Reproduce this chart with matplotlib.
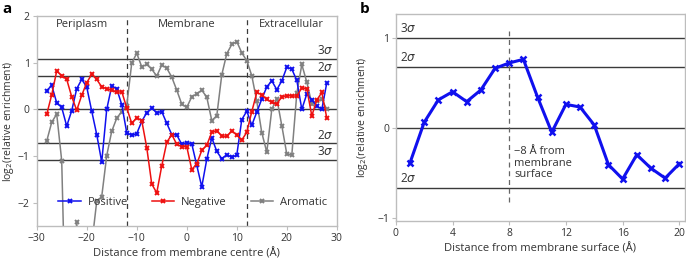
import numpy as np
import matplotlib
matplotlib.use('Agg')
import matplotlib.pyplot as plt

plt.rcParams['font.family'] = ['Open Sans', 'DejaVu Sans']
plt.rcParams['font.size'] = 8
plt.rcParams['mathtext.fontset'] = 'dejavusans'

# panel a data: enrichment vs distance from membrane centre
dist_a = list(range(-28, 29))
positive = [0.40, 0.51, 0.14, 0.04, -0.36, -0.03, 0.44, 0.64, 0.48, -0.04,
            -0.54, -1.13, 0.00, 0.50, 0.44, 0.10, -0.50, -0.56, -0.52, -0.26,
            -0.07, 0.02, -0.07, -0.05, -0.30, -0.54, -0.55, -0.75, -0.72, -0.74,
            -1.20, -1.66, -1.07, -0.61, -0.90, -1.06, -0.97, -1.03, -0.98, -0.22,
            -0.04, -0.34, -0.06, 0.22, 0.48, 0.61, 0.42, 0.61, 0.90, 0.86,
            0.62, 0.00, 0.33, 0.20, 0.07, 0.00, 0.57]
negative = [-0.11, 0.31, 0.82, 0.72, 0.64, 0.27, -0.02, 0.30, 0.57, 0.75,
            0.64, 0.48, 0.44, 0.41, 0.36, 0.38, 0.03, -0.30, -0.18, -0.24,
            -0.82, -1.60, -1.79, -1.21, -0.71, -0.54, -0.75, -0.80, -0.80, -1.29,
            -1.17, -0.88, -0.77, -0.49, -0.46, -0.57, -0.58, -0.46, -0.55, -0.66,
            -0.49, -0.05, 0.36, 0.31, 0.21, 0.15, 0.11, 0.27, 0.29, 0.29,
            0.28, 0.46, 0.44, -0.14, 0.20, 0.36, -0.19]
aromatic = [-0.68, -0.28, -0.10, -1.10, -5.5, -4.0, -2.42, -4.0, -4.0, -2.9,
            -1.97, -1.87, -0.99, -0.47, -0.19, -0.05, 0.08, 0.99, 1.20, 0.91,
            0.96, 0.86, 0.71, 0.95, 0.88, 0.69, 0.41, 0.11, 0.04, 0.27,
            0.33, 0.41, 0.26, -0.24, -0.14, 0.74, 1.19, 1.39, 1.45, 1.21,
            1.04, 0.72, 0.17, -0.50, -0.92, 0.00, 0.23, -0.35, -0.96, -0.98,
            0.34, 0.96, 0.58, 0.12, 0.18, 0.21, 0.00]

sigma_a = {'3': 1.075, '2': 0.715, '-2': -0.73, '-3': -1.085}
regions = ['Periplasm', 'Membrane', 'Extracellular']
region_x = [-21, 0, 21]
boundaries = [-12, 12]

# panel b data: positive residues vs distance from membrane surface
dist_b = list(range(1, 21))
positive_b = [-0.39, 0.06, 0.31, 0.40, 0.29, 0.42, 0.66, 0.72, 0.76, 0.34,
              -0.05, 0.26, 0.23, 0.03, -0.41, -0.57, -0.30, -0.45, -0.56, -0.40]
sigma_b = {'3': 1.0, '2': 0.68, '-2': -0.67}

line_col = '#3a3a3a'
spine_col = '#bdbdbd'
text_col = '#333333'

fig = plt.figure(figsize=(6.86, 2.61), dpi=100)

# ---- panel a
ax1 = fig.add_axes([0.0535, 0.134, 0.4375, 0.805])
for k, v in sigma_a.items():
    ax1.axhline(v, color=line_col, lw=1, zorder=1)
    ax1.text(29.3, v + 0.04, k.strip('-') + r'$\sigma$', ha='right', va='bottom',
             fontsize=8.5, color=text_col)
ax1.axhline(0, color=line_col, lw=1, zorder=1)
for b in boundaries:
    ax1.axvline(b, color=line_col, lw=0.9, ls=(0, (4, 3)), zorder=1)
for name, xr in zip(regions, region_x):
    ax1.text(xr, 1.82, name, ha='center', va='center', fontsize=8, color=text_col)

ax1.plot(dist_a, positive, color='#1010ee', marker='x', ms=3, mew=1.4, lw=1.1, label='Positive', zorder=3)
ax1.plot(dist_a, negative, color='#ee1010', marker='x', ms=3, mew=1.4, lw=1.1, label='Negative', zorder=3)
ax1.plot(dist_a, aromatic, color='#808080', marker='x', ms=3, mew=1.4, lw=1.1, label='Aromatic', zorder=2)

ax1.set_xlim(-30, 30)
ax1.set_ylim(-2.5, 2)
ax1.set_xticks([-30, -20, -10, 0, 10, 20, 30])
ax1.set_xticklabels(['\u221230', '\u221220', '\u221210', '0', '10', '20', '30'])
ax1.set_yticks([-2, -1, 0, 1, 2])
ax1.set_yticklabels(['\u22122', '\u22121', '0', '1', '2'])
ax1.set_xlabel('Distance from membrane centre (\u00c5)', fontsize=8, labelpad=3, color=text_col)
ax1.set_ylabel(r'log$_2$(relative enrichment)', fontsize=7.5, labelpad=1, color=text_col)
ax1.legend(loc='lower center', ncol=3, frameon=False, fontsize=8,
           bbox_to_anchor=(0.52, 0.04), handlelength=2.0, columnspacing=2.2,
           handletextpad=0.6, labelcolor=text_col)

# ---- panel b
ax2 = fig.add_axes([0.577, 0.153, 0.4215, 0.793])
for k, v in sigma_b.items():
    ax2.axhline(v, color=line_col, lw=1, zorder=1)
    ax2.text(0.3, v + 0.03, k.strip('-') + r'$\sigma$', ha='left', va='bottom',
             fontsize=8.5, color=text_col)
ax2.axhline(0, color=line_col, lw=1, zorder=1)
ax2.plot([8, 8], [-0.82, 1.07], color='#666666', lw=0.9, ls=(0, (4, 3)), zorder=1)
ax2.text(8.35, -0.2, '\u22128 \u00c5 from\nmembrane\nsurface', ha='left', va='top',
         fontsize=8, color=text_col, linespacing=1.1)
ax2.plot(dist_b, positive_b, color='#1010ee', marker='x', ms=5, mew=1.8, lw=2.2, zorder=3)

ax2.set_xlim(0, 20.4)
ax2.set_ylim(-1.037, 1.263)
ax2.set_xticks([0, 4, 8, 12, 16, 20])
ax2.set_yticks([-1, 0, 1])
ax2.set_yticklabels(['\u22121', '0', '1'])
ax2.set_xlabel('Distance from membrane surface (\u00c5)', fontsize=8, labelpad=3, color=text_col)
ax2.set_ylabel(r'log$_2$(relative enrichment)', fontsize=7.5, labelpad=5, color=text_col)

for ax in (ax1, ax2):
    for s in ax.spines.values():
        s.set_color(spine_col)
        s.set_linewidth(1)
    ax.tick_params(length=3, color=spine_col, labelsize=7.5, labelcolor=text_col, pad=2)

fig.text(0.003, 0.965, 'a', fontsize=11, fontweight='bold', va='center')
fig.text(0.525, 0.965, 'b', fontsize=11, fontweight='bold', va='center')

fig.savefig('out.png', dpi=100)
